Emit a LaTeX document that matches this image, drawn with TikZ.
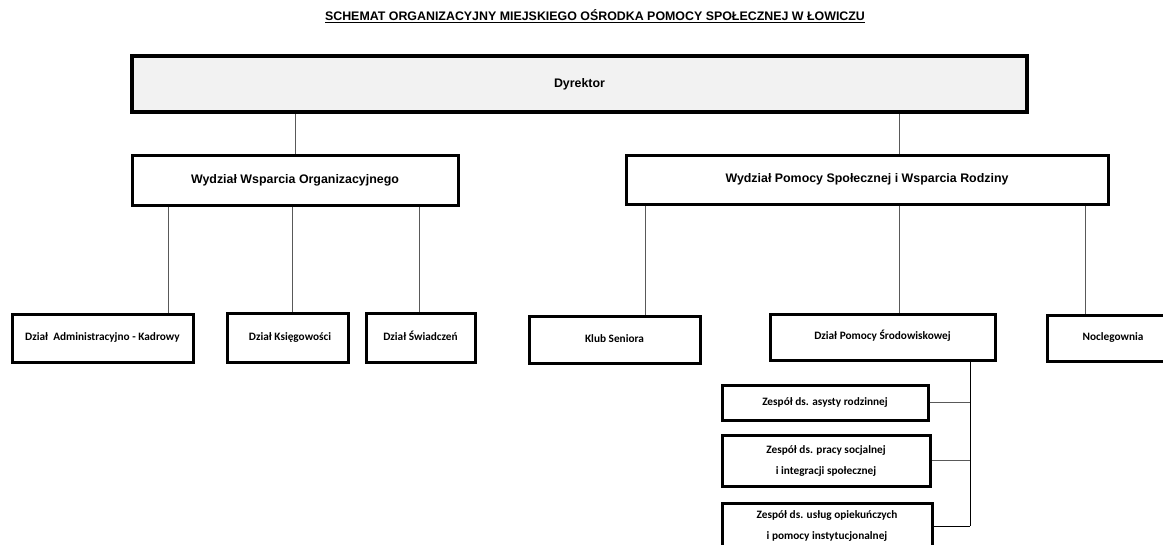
\documentclass[tikz,border=0pt]{standalone}
\usepackage{fontspec}
\setmainfont{Liberation Sans}
\newfontfamily\calibri{Carlito}
\begin{document}
\begin{tikzpicture}[x=1pt, y=-1pt,
  box/.style={draw, line width=3pt, inner sep=0pt, align=center},
  head/.style={box, font=\bfseries\fontsize{12.4}{15}\selectfont},
  unit/.style={box, font=\calibri\bfseries\fontsize{11.3}{21}\selectfont},
  single/.style={unit, text height=8pt, text depth=2.5pt},
  link/.style={draw=black!65, line width=0.9pt}]
\useasboundingbox (0,0) rectangle (1163,544);

\node[font=\bfseries\fontsize{12.4}{15}\selectfont] (title) at (595,16)
  {\underline{SCHEMAT ORGANIZACYJNY MIEJSKIEGO OŚRODKA POMOCY SPOŁECZNEJ W ŁOWICZU}};

\node[head, fill=black!5, line width=3.6pt, minimum width=895, minimum height=56] (dyr) at (579.5,84) {Dyrektor};

\node[head, minimum width=326, minimum height=50] (w1) at (295,180) {Wydział Wsparcia Organizacyjnego};
\node[head, minimum width=482, minimum height=49] (w2) at (867,179.5) {Wydział Pomocy Społecznej i Wsparcia Rodziny};

\node[single, minimum width=181, minimum height=48] (d1) at (102.5,338) {Dział\ \ Administracyjno - Kadrowy};
\node[single, minimum width=121, minimum height=49] (d2) at (287.5,337.5) {\ \ Dział Księgowości};
\node[single, minimum width=109, minimum height=49] (d3) at (420.5,337.5) {Dział Świadczeń};
\node[single, minimum width=171, minimum height=47] (k1) at (614.5,339.5) {Klub Seniora};
\node[single, minimum width=225, minimum height=46] (d4) at (882.5,337) {Dział Pomocy Środowiskowej};
\node[single, minimum width=132, minimum height=46] (nc) at (1113,338) {Noclegownia};

\node[single, minimum width=206, minimum height=35] (z1) at (825,402.5) {Zespół ds. asysty rodzinnej};
\node[unit, minimum width=208, minimum height=51] (z2) at (826,460.5) {Zespół ds. pracy socjalnej\\i integracji społecznej};
\node[unit, minimum width=210, minimum height=46] (z3) at (827,526) {Zespół ds. usług opiekuńczych\\i pomocy instytucjonalnej};

\coordinate (br) at (970,526);

\draw[link] (dyr.south -| w1.north) -- (w1.north);
\draw[link] (dyr.south -| 899,0) -- (w2.north -| 899,0);

\draw[link] (w1.south -| 168,0) -- (d1.north -| 168,0);
\draw[link] (w1.south -| 292,0) -- (d2.north -| 292,0);
\draw[link] (w1.south -| 419,0) -- (d3.north -| 419,0);

\draw[link] (w2.south -| 645,0) -- (k1.north -| 645,0);
\draw[link] (w2.south -| 899,0) -- (d4.north -| 899,0);
\draw[link] (w2.south -| 1085,0) -- (nc.north -| 1085,0);

\draw[link, draw=black] (d4.south -| br) -- (br);
\draw[link] (z1.east) -- (z1.east -| br);
\draw[link] (z2.east) -- (z2.east -| br);
\draw[link, draw=black] (z3.east) -- (br);
\end{tikzpicture}
\end{document}
